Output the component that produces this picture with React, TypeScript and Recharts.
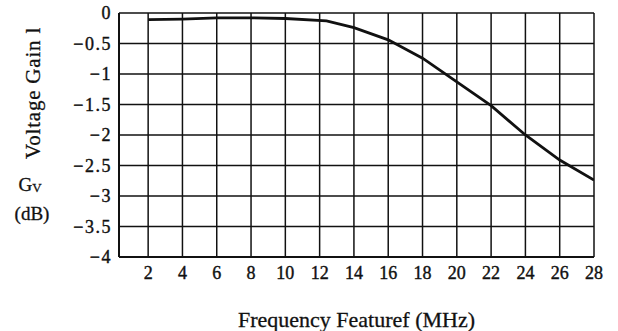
import { LineChart, Line, XAxis, YAxis, CartesianGrid, Label } from 'recharts';

const freqMHz = [2, 4, 6, 8, 10, 12.4, 14, 16, 18, 20, 22, 24, 26, 28];
const gainDb = [-0.11, -0.1, -0.08, -0.08, -0.09, -0.13, -0.24, -0.44, -0.74, -1.13, -1.52, -2.0, -2.41, -2.74];
const xTicks = [2, 4, 6, 8, 10, 12, 14, 16, 18, 20, 22, 24, 26, 28];
const yTicks = [0, -0.5, -1, -1.5, -2, -2.5, -3, -3.5, -4];

const data = freqMHz.map((f, i) => ({ f, g: gainDb[i] }));

const FONT = '"Liberation Serif", "DejaVu Serif", serif';
const INK = '#111';

const fmtY = (v: number) => (v === 0 ? '0' : `\u2212${Math.abs(v)}`);

function YTitle(props: any) {
  const vb = props.viewBox || { x: 0, y: 13, width: 119, height: 244 };
  const x0 = vb.x;
  return (
    <g fontFamily={FONT} fill={INK} stroke={INK} strokeWidth={0.3}>
      <text
        x={x0 + 33}
        y={93}
        transform={`rotate(-90 ${x0 + 33} 93)`}
        textAnchor="middle"
        dominantBaseline="central"
        fontSize={21}
        letterSpacing={0.8}
      >
        Voltage Gain l
      </text>
      <text x={x0 + 30} y={184} textAnchor="middle" dominantBaseline="central" fontSize={19}>
        G<tspan fontSize={13} dy={3}>V</tspan>
      </text>
      <text x={x0 + 32} y={213} textAnchor="middle" dominantBaseline="central" fontSize={19}>
        (dB)
      </text>
    </g>
  );
}

export default function App() {
  return (
    <div style={{ width: 618, height: 331, background: '#fff' }}>
      <style>{'body{margin:0;background:#fff}'}</style>
      <LineChart width={618} height={331} data={data} margin={{ top: 13, right: 24, bottom: 0, left: 0 }}>
        <CartesianGrid stroke={INK} strokeWidth={1.5} horizontalValues={yTicks} verticalValues={xTicks} />
        <XAxis
          dataKey="f"
          type="number"
          domain={[0.3, 28]}
          ticks={xTicks}
          allowDataOverflow
          height={74}
          tickSize={0}
          tickMargin={9}
          axisLine={{ stroke: INK, strokeWidth: 2 }}
          tick={{ fill: INK, stroke: INK, strokeWidth: 0.4, fontSize: 18, fontFamily: FONT }}
        >
          <Label
            value="Frequency  Featuref (MHz)"
            position="insideBottom"
            offset={4}
            fill={INK}
            stroke={INK}
            strokeWidth={0.3}
            fontSize={22}
            fontFamily={FONT}
            style={{ whiteSpace: 'pre' }}
          />
        </XAxis>
        <YAxis
          type="number"
          domain={[-4, 0]}
          ticks={yTicks}
          width={119}
          tickSize={0}
          tickMargin={7}
          tickFormatter={fmtY}
          axisLine={{ stroke: INK, strokeWidth: 2 }}
          tick={{ fill: INK, stroke: INK, strokeWidth: 0.4, fontSize: 18, fontFamily: FONT, letterSpacing: 1.5 }}
        >
          <Label content={<YTitle />} />
        </YAxis>
        <Line
          type="linear"
          dataKey="g"
          stroke={INK}
          strokeWidth={2.8}
          dot={false}
          isAnimationActive={false}
        />
      </LineChart>
    </div>
  );
}
